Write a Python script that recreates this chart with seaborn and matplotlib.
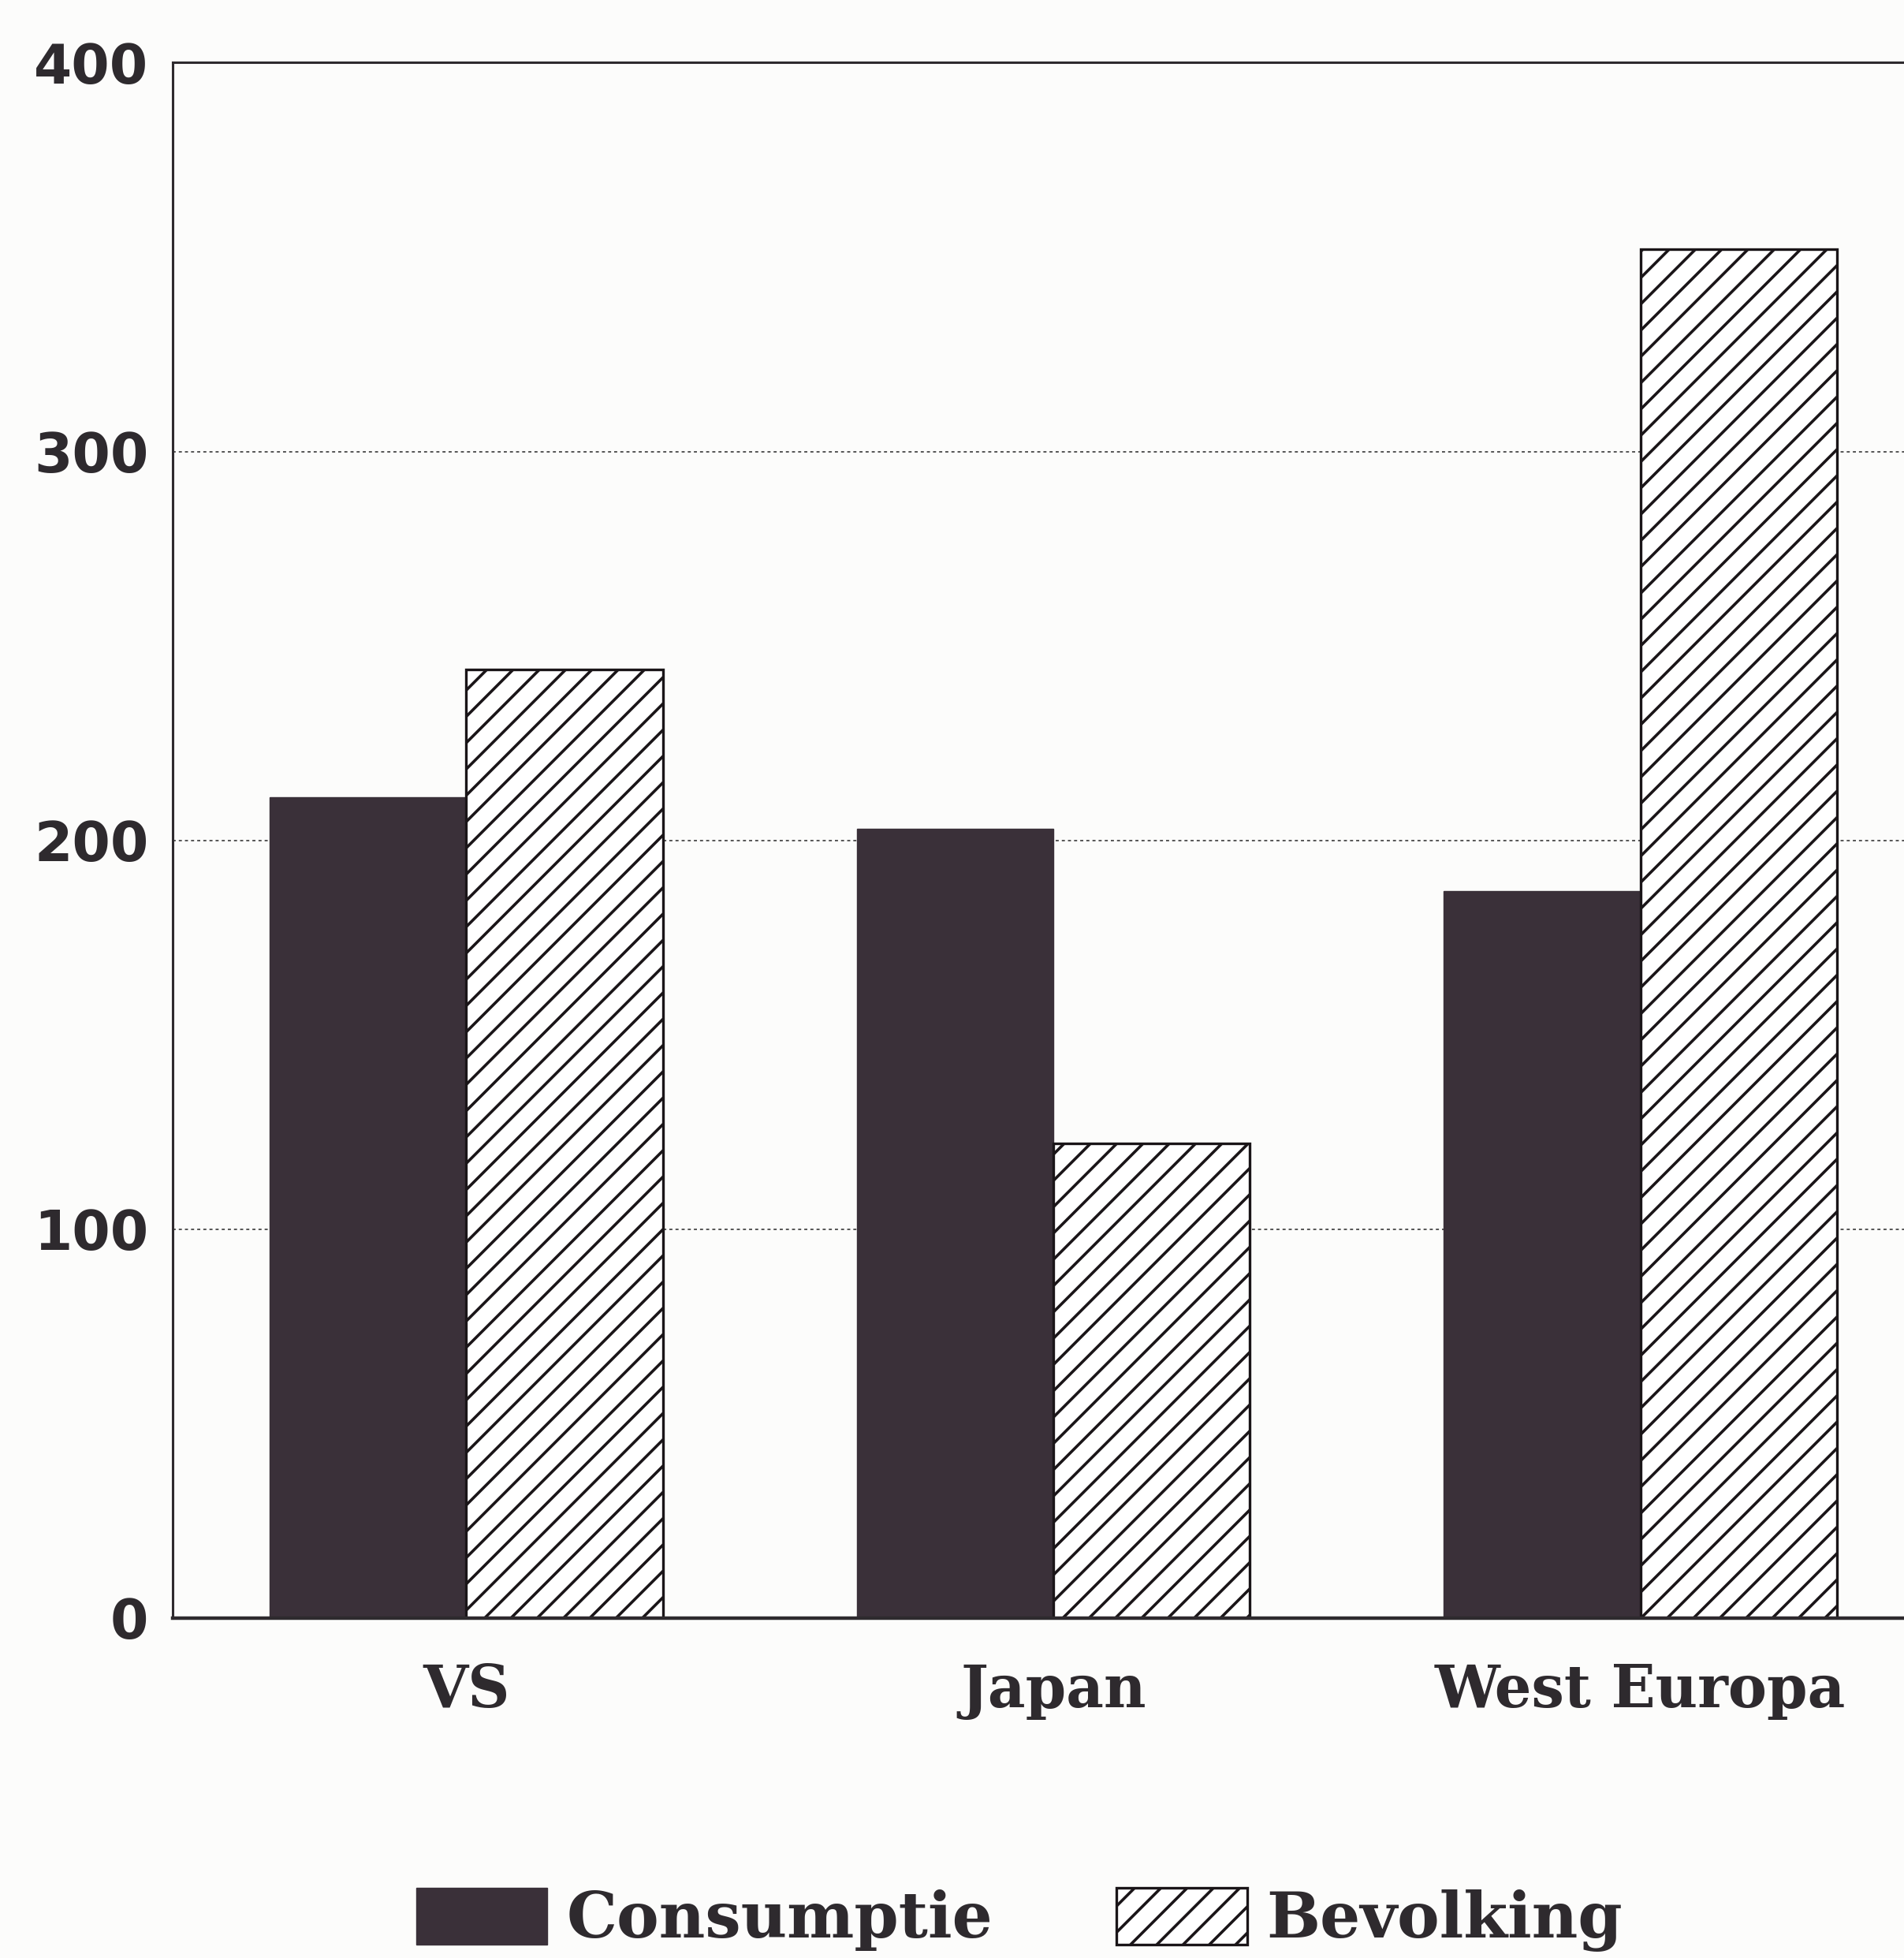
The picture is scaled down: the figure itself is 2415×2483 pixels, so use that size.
import numpy as np
import pandas as pd
import matplotlib
matplotlib.use("Agg")
import matplotlib.pyplot as plt
import matplotlib.patches as mpatches
import seaborn as sns

# ---- data ----
regions = ["VS", "Japan", "West Europa"]
consumptie = [211, 203, 187]
bevolking = [244, 122, 352]
series_names = ["Consumptie", "Bevolking"]
y_ticks = [0, 100, 200, 300, 400]

df = pd.DataFrame({
    "regio": regions * 2,
    "waarde": consumptie + bevolking,
    "reeks": [series_names[0]] * len(regions) + [series_names[1]] * len(regions),
})

dark = "#3a3039"
bg = "#fcfcfb"
ink = "#2e2a2e"

sns.set_theme(style="white")
plt.rcParams["hatch.linewidth"] = 2.6

fig = plt.figure(figsize=(24.15, 24.83), dpi=100, facecolor=bg)
ax = fig.add_axes([0.0907, 0.1736, 0.925, 0.7944])
ax.set_facecolor(bg)

sns.barplot(data=df, x="regio", y="waarde", hue="reeks", order=regions,
            hue_order=series_names, palette=[dark, "white"], width=0.67,
            saturation=1, legend=False, ax=ax)

for bar in ax.containers[0]:
    bar.set_edgecolor(dark)
    bar.set_linewidth(1)
for bar in ax.containers[1]:
    bar.set_hatch("/")
    bar.set_edgecolor("#1a1518")
    bar.set_linewidth(2.4)

ax.set_xlim(-0.5, 2.5)
ax.set_ylim(0, 400)
ax.set_yticks(y_ticks)
ax.set_yticklabels([str(t) for t in y_ticks])
ax.set_xlabel("")
ax.set_ylabel("")

ax.set_axisbelow(True)
ax.yaxis.grid(True, linestyle=(0, (2, 2)), color="#555555", linewidth=1.4)
ax.xaxis.grid(False)

for side in ["top", "left"]:
    ax.spines[side].set_color(ink)
    ax.spines[side].set_linewidth(2.2)
ax.spines["bottom"].set_color(ink)
ax.spines["bottom"].set_linewidth(3.2)
ax.spines["right"].set_visible(False)

ax.tick_params(axis="y", length=0, pad=22, labelsize=50, labelcolor=ink)
ax.tick_params(axis="x", length=0, pad=40, labelsize=53, labelcolor=ink)
for lab in ax.get_yticklabels():
    lab.set_fontweight("bold")
    lab.set_family("DejaVu Sans")
for lab in ax.get_xticklabels():
    lab.set_fontweight("bold")
    lab.set_family("DejaVu Serif")

handles = [
    mpatches.Patch(facecolor=dark, edgecolor=dark, label=series_names[0]),
    mpatches.Patch(facecolor="white", edgecolor="#1a1518", hatch="/",
                   linewidth=2.4, label=series_names[1]),
]
leg = fig.legend(handles=handles, loc="center left",
                 bbox_to_anchor=(0.202, 0.0195), ncol=2, frameon=False,
                 borderpad=0, handlelength=2.06, handleheight=1.0,
                 handletextpad=0.3, columnspacing=1.95,
                 prop={"family": "DejaVu Serif", "weight": "bold", "size": 58})
for t in leg.get_texts():
    t.set_color(ink)

fig.savefig("out.png", dpi=100, facecolor=bg)
